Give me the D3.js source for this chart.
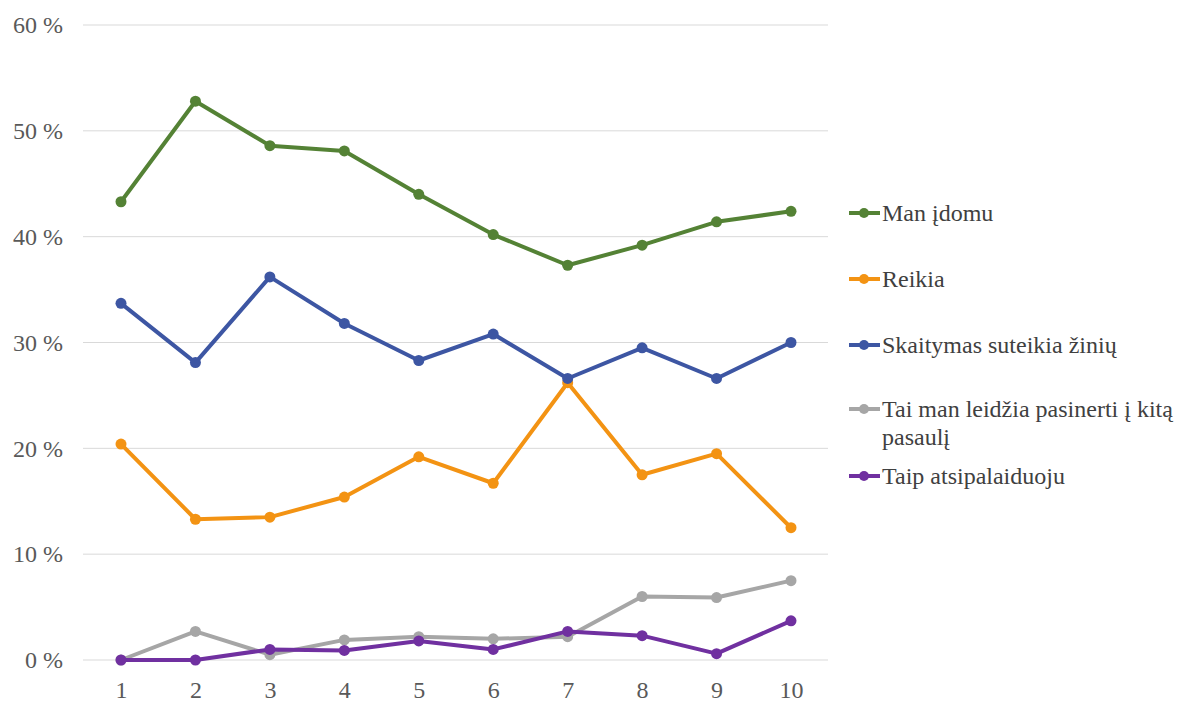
<!DOCTYPE html>
<html><head><meta charset="utf-8">
<script src="https://cdn.jsdelivr.net/npm/d3@7"></script>
</head><body style="margin:0">
<svg id="c" width="1201" height="702" style="display:block"></svg>
<script>
const categories = [1,2,3,4,5,6,7,8,9,10];
const manIdomu = [43.3,52.8,48.6,48.1,44.0,40.2,37.3,39.2,41.4,42.4];
const reikia = [20.4,13.3,13.5,15.4,19.2,16.7,26.2,17.5,19.5,12.5];
const skaitymas = [33.7,28.1,36.2,31.8,28.3,30.8,26.6,29.5,26.6,30.0];
const pasinerti = [0,2.7,0.5,1.9,2.2,2.0,2.2,6.0,5.9,7.5];
const atsipalaiduoju = [0,0,1.0,0.9,1.8,1.0,2.7,2.3,0.6,3.7];
const yTicks = [0,10,20,30,40,50,60];
const seriesNames = ["Man įdomu","Reikia","Skaitymas suteikia žinių","Tai man leidžia pasinerti į kitą pasaulį","Taip atsipalaiduoju"];
const seriesColors = ["#548235","#F39313","#3D56A3","#A6A6A6","#7030A0"];
const seriesValues = [manIdomu,reikia,skaitymas,pasinerti,atsipalaiduoju];

const fam = ["Liberation", "Serif"].join(" ");
const FF = `"${fam}"`;

const svg = d3.select("#c");
const x = d3.scalePoint().domain(categories).range([121,791]);
const y = d3.scaleLinear().domain([0,60]).range([660,25]);

svg.append("g").selectAll("line").data(yTicks).join("line")
  .attr("x1",83).attr("x2",828)
  .attr("y1",d=>y(d)).attr("y2",d=>y(d))
  .attr("stroke","#d9d9d9").attr("stroke-width",1);

const yAxis = d3.axisLeft(y).tickValues(yTicks).tickFormat(d=>d+" %").tickSize(0).tickPadding(0);
const ga = svg.append("g").attr("transform","translate(63,0)").call(yAxis);
ga.attr("font-family",null).attr("font-size",null);
ga.select(".domain").remove();
ga.selectAll("text").style("font-family",FF).attr("font-size",24).attr("fill","#595959");

const xAxis = d3.axisBottom(x).tickSize(0).tickPadding(0);
const gx = svg.append("g").attr("transform","translate(0,681)").call(xAxis);
gx.attr("font-family",null).attr("font-size",null);
gx.select(".domain").remove();
gx.selectAll("text").style("font-family",FF).attr("font-size",24).attr("fill","#595959");

const line = d3.line().x((d,i)=>x(categories[i])).y(d=>y(d));
const order = [3,4,1,2,0];
order.forEach(k=>{
  const g = svg.append("g");
  g.append("path").datum(seriesValues[k]).attr("d",line)
    .attr("fill","none").attr("stroke",seriesColors[k]).attr("stroke-width",4)
    .attr("stroke-linejoin","round");
  g.selectAll("circle").data(seriesValues[k]).join("circle")
    .attr("cx",(d,i)=>x(categories[i])).attr("cy",d=>y(d)).attr("r",5.5)
    .attr("fill",seriesColors[k]);
});

const legY = [213,279,345,409,476];
seriesNames.forEach((n,k)=>{
  svg.append("line").attr("x1",849).attr("x2",880).attr("y1",legY[k]).attr("y2",legY[k])
    .attr("stroke",seriesColors[k]).attr("stroke-width",4);
  svg.append("circle").attr("cx",864).attr("cy",legY[k]).attr("r",5).attr("fill",seriesColors[k]);
  const t = svg.append("text").attr("x",882).attr("y",legY[k]+8)
    .style("font-family",FF).attr("font-size",24).attr("fill","#404040");
  if(k===3){
    t.append("tspan").attr("x",882).text("Tai man leidžia pasinerti į kitą");
    t.append("tspan").attr("x",882).attr("dy",28).text("pasaulį");
  } else t.text(n);
});
</script>
</body></html>
